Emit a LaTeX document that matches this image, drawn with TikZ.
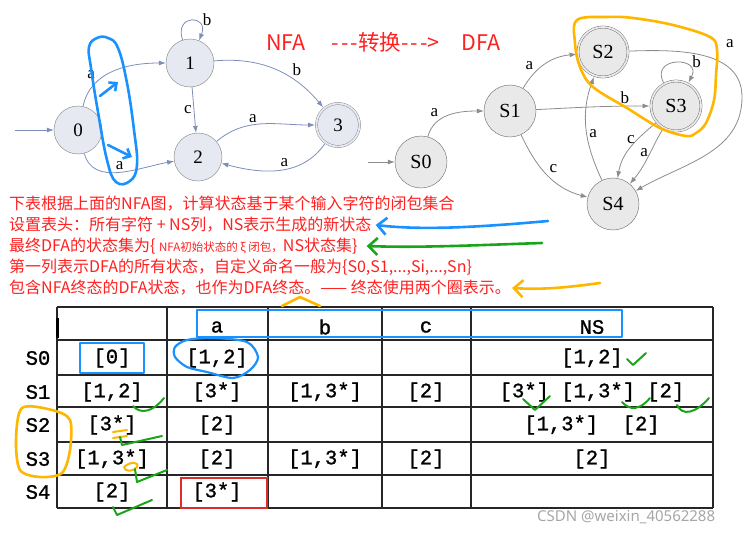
\documentclass[tikz,border=0pt]{standalone}
\usepackage{fontspec}
\setmainfont{Liberation Serif}
\newfontfamily\cjk{Noto Sans CJK SC}
\newfontfamily\tabfont{Liberation Mono}[FakeBold=1.2]
\newfontfamily\wmfont{Noto Sans}
\usetikzlibrary{arrows.meta,positioning}
\definecolor{nfafill}{RGB}{230,232,242}
\definecolor{nfaline}{RGB}{125,142,185}
\definecolor{dfafill}{RGB}{233,233,233}
\definecolor{dfaline}{RGB}{140,140,140}
\definecolor{notered}{RGB}{255,32,32}
\definecolor{penblue}{RGB}{25,145,255}
\definecolor{pengreen}{RGB}{25,165,25}
\definecolor{penorange}{RGB}{255,182,0}
\definecolor{boxred}{RGB}{220,45,45}

\begin{document}
\begin{tikzpicture}[x=1pt, y=-1pt,
  nst/.style={circle, draw=black!50, fill=nfafill, minimum size=48pt, inner sep=0pt, font=\fontsize{19}{19}\selectfont},
  nacc/.style={nst, double=nfafill, double distance=1.8pt, minimum size=43pt, outer sep=1.5pt},
  dst/.style={circle, draw=black!60, fill=dfafill, minimum size=52pt, inner sep=0pt, font=\fontsize{20}{20}\selectfont},
  dacc/.style={dst, double=dfafill, double distance=1.8pt, minimum size=50pt, outer sep=1.5pt},
  ne/.style={-{Latex[length=7pt,width=5pt]}, draw=nfaline, line width=0.8pt},
  de/.style={-{Latex[length=7pt,width=5pt]}, draw=dfaline, line width=0.8pt},
  lab/.style={font=\fontsize{17}{17}\selectfont, inner sep=2pt},
  note/.style={anchor=west, text=notered, font=\cjk\fontsize{16}{16}\selectfont, inner sep=0pt},
  pen/.style={line width=2.6pt, line cap=round, line join=round},
  penarrow/.style={pen, -{Straight Barb[length=9pt,width=17pt,line width=2.6pt]}},
  grid/.style={draw=black!85, line width=1.2pt},
  cell/.style={font=\tabfont\fontsize{20.5}{20.5}\selectfont, inner sep=0pt}]
\useasboundingbox (0,0) rectangle (752,535);

% NFA
\node[nst] (q0) at (78,130) {0};
\node[nst] (q1) at (190,63) {1};
\node[nst] (q2) at (198,157) {2};
\node[nacc] (q3) at (338,125) {3};
\coordinate (qin) at (15,130);
\draw[ne] (qin) -- (q0);
\draw[ne] (q0) to[out=78,in=180] node[lab, pos=0.3, above left] {a} (q1);
\draw[ne] (q0) to[out=-75,in=190] node[lab, pos=0.5, above] {a} (q2);
\draw[ne] (q1) to[out=108,in=68,min distance=28pt] node[lab, pos=0.8, above right] {b} (q1);
\draw[ne] (q1) to[out=5,in=130] node[lab, pos=0.65, above right] {b} (q3);
\draw[ne] (q1) -- node[lab, left] {c} (q2);
\draw[ne] (q2) to[out=40,in=180] node[lab, pos=0.4, above] {a} (q3);
\draw[ne] (q3) to[out=235,in=-15] node[lab, pos=0.45, above] {a} (q2);

% DFA
\node[dst] (s0) at (421,162) {S0};
\node[dst] (s1) at (510,111) {S1};
\node[dacc] (s2) at (603,52) {S2};
\node[dacc] (s3) at (676,106) {S3};
\node[dst] (s4) at (613,204) {S4};
\coordinate (sin) at (368,162);
\coordinate (sturn) at (742,97);
\draw[de] (sin) -- (s0);
\draw[de] (s0) to[out=75,in=180] node[lab, pos=0.35, above left] {a} (s1);
\draw[de] (s1) to[out=60,in=185] node[lab, pos=0.3, above left] {a} (s2);
\draw[de] (s1) to[out=3,in=180] node[lab, pos=0.8, above] {b} (s3);
\draw[de] (s1) to[out=-65,in=165] node[lab, pos=0.5, above right] {c} (s4);
\draw[de] (s4) to[out=115,in=-110] node[lab, pos=0.45, right] {a} (s2);
\draw[de] (s3) to[out=220,in=80] node[lab, pos=0.35, left] {c} (s4);
\draw[de] (s3) to[out=240,in=50] node[lab, pos=0.4, left] {a} (s4);
\draw[de] (s2) to[out=2,in=90] (sturn) to[out=-90,in=30] (s4);
\node[lab, text=black] (s2s4lab) at (730,44) {a};
\draw[de] (s3) to[out=118,in=62,min distance=30pt] node[lab, pos=0.8, above right] {b} (s3);

% title
\node[anchor=west, text=notered, font=\cjk\fontsize{21.5}{21.5}\selectfont, inner sep=0pt] (title) at (266,42) {NFA\hspace{26pt}-\kern2pt-\kern2pt-转换-\kern2pt-\kern2pt->\hspace{22pt}DFA};

% notes
\node[note] (l1) at (9,204) {下表根据上面的NFA图，计算状态基于某个输入字符的闭包集合};
\node[note] (l2) at (9,225) {设置表头：所有字符 + NS列，NS表示生成的新状态};
\node[note] (l3) at (9,246) {最终DFA的状态集为\{ {\fontsize{11.5}{11.5}\selectfont NFA初始状态的 ξ 闭包，}NS状态集\}};
\node[note] (l4) at (9,267) {第一列表示DFA的所有状态，自定义命名一般为\{S0,S1,...,Si,...,Sn\}};
\node[note] (l5) at (9,288) {包含NFA终态的DFA状态，也作为DFA终态。—— 终态使用两个圈表示。};

% table
\foreach \yy in {307,340,375,407,442,475,508} \draw[grid] (57,\yy) -- (713,\yy);
\foreach \xx in {57,167,268,382,471,713} \draw[grid] (\xx,307) -- (\xx,508);
\draw[line width=3pt] (57,318) -- (57,338);
\node[cell] (ha) at (217,327) {a};
\node[cell] (hb) at (325,327) {b};
\node[cell] (hc) at (426,327) {c};
\node[cell] (hns) at (592,327) {NS};
\foreach \yy/\rn/\cz/\ca/\cb/\cc/\cn in {
  358/S0/{[0]}/{[1,2]}/{}/{}/{[1,2]},
  392/S1/{[1,2]}/{[3*]}/{[1,3*]}/{[2]}/{[3*] [1,3*] [2]},
  425/S2/{[3*]}/{[2]}/{}/{}/{[1,3*]~~[2]},
  459/S3/{[1,3*]}/{[2]}/{[1,3*]}/{[2]}/{[2]},
  492/S4/{[2]}/{[3*]}/{}/{}/{}} {
  \node[cell] (\rn) at (38,\yy) {\rn};
  \node[cell] (\rn-st) at (112,\yy) {\cz};
  \node[cell] (\rn-a) at (217,\yy) {\ca};
  \node[cell] (\rn-b) at (325,\yy) {\cb};
  \node[cell] (\rn-c) at (426,\yy) {\cc};
  \node[cell] (\rn-ns) at (592,\yy) {\cn};
}

% hand marks
\draw[pen, penblue] plot[smooth cycle, tension=0.7] coordinates {(97,38) (108,38) (118,48) (127,83) (134,130) (137,165) (130,181) (116,182) (107,160) (98,112) (91,68) (89,47)};
\draw[pen, penblue, -{Straight Barb[length=6pt,width=11pt,line width=2.6pt]}] (100,96) -- (118,82);
\draw[pen, penblue, -{Straight Barb[length=6pt,width=11pt,line width=2.6pt]}] (108,145) -- (132,157);
\draw[pen, penorange] plot[smooth cycle, tension=0.6] coordinates {(577,20) (607,17) (633,18) (673,25) (710,37) (717,50) (716,75) (714,100) (706,123) (696,133) (686,136) (660,128) (627,108) (593,87) (580,67) (575,43)};
\coordinate (tb) at (548,221);
\coordinate (tg) at (542,243);
\coordinate (to) at (600,283);
\draw[penarrow, penblue] (tb) .. controls (470,228) and (420,230) .. ([xshift=4pt]l2.east);
\draw[penarrow, pengreen] (tg) .. controls (480,245) and (420,248) .. ([xshift=9pt]l3.east);
\draw[penarrow, penorange] (to) .. controls (570,287) and (545,290) .. ([xshift=1pt]l5.east);
\draw[pen, penorange] (282,306) -- (300,297) -- (320,306);
\draw[pen, penblue, line width=2.4pt] (80,343) rectangle (144,373);
\draw[pen, penblue, line width=2.4pt] (197,310) rectangle (622,337);
\draw[pen, penblue, line width=2.2pt] plot[smooth cycle] coordinates {(175,347) (187,340) (213,338) (247,342) (258,357) (250,370) (233,378) (207,372) (187,367) (175,357)};
\draw[boxred, line width=1.2pt] (181,478) rectangle (267,508);
\draw[pen, penorange] plot[smooth cycle] coordinates {(22,408) (52,410) (70,420) (70,450) (62,473) (40,477) (20,470) (16,440)};
\draw[pen, penorange, line width=2pt] (113,432) -- (127,430) (113,438) -- (127,436);
\draw[pen, penorange, line width=2pt] (124,467) .. controls (130,461) and (140,462) .. (137,467) .. controls (134,472) and (124,472) .. (124,467);
\draw[pen, pengreen, line width=2pt] (133,406) .. controls (140,414) and (152,413) .. (164,398);
\draw[pen, pengreen, line width=2pt] (120,437) -- (122,445) -- (162,436);
\draw[pen, pengreen, line width=2pt] (135,469) -- (137,482) -- (167,470);
\draw[pen, pengreen, line width=2pt] (113,507) -- (117,515) -- (152,500);
\draw[pen, pengreen, line width=2pt] (627,359) -- (633,365) -- (646,353);
\draw[pen, pengreen, line width=2pt] (523,399) -- (535,410) -- (550,396);
\draw[pen, pengreen, line width=2pt] (622,402) .. controls (630,411) and (640,410) .. (650,398);
\draw[pen, pengreen, line width=2pt] (677,405) .. controls (682,416) and (695,414) .. (709,398);

% watermark
\node[anchor=west, text=black!35, font=\wmfont\fontsize{15}{15}\selectfont, inner sep=0pt] (wm) at (537,517) {CSDN @weixin\_40562288};
\end{tikzpicture}
\end{document}
